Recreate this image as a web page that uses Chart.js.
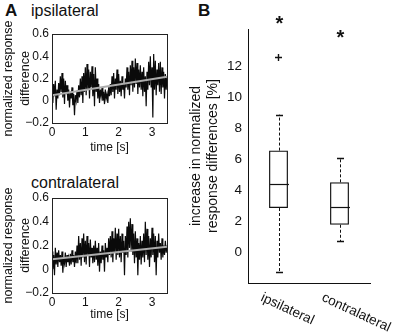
<!DOCTYPE html>
<html>
<head>
<meta charset="utf-8">
<script src="https://cdn.jsdelivr.net/npm/chart.js@4/dist/chart.umd.min.js"></script>
<style>
    body { margin: 0; background: #fff; width: 397px; height: 332px; position: relative; overflow: hidden; font-family: "Liberation Sans", Arial, sans-serif; color: #111; }
    canvas { position: absolute; }
    .lbl { position: absolute; line-height: 16px; white-space: nowrap; }
</style>
</head>
<body>
<div class="lbl" style="left:5px;top:3px;font-size:17px;font-weight:bold">A</div>
<div class="lbl" style="left:31px;top:3px;font-size:16px">ipsilateral</div>
<div class="lbl" style="left:31px;top:175px;font-size:16px">contralateral</div>
<div class="lbl" style="left:198px;top:3px;font-size:17px;font-weight:bold">B</div>

<canvas id="ipsiTrace" width="180" height="165" style="left:0;top:0"></canvas>
<canvas id="contraTrace" width="180" height="167" style="left:0;top:165px"></canvas>
<canvas id="boxes" width="217" height="332" style="left:180px;top:0"></canvas>

<script>
// --- Panel A data (normalized response difference, sampled every 25 ms) ---
const sampleStep = 0.025;
const ipsiTrace = [
    0.12, -0.02, 0.15, 0.04, 0.18, -0.08, 0.10, 0.02, 0.16, 0.05,
    0.22, 0.08, 0.25, 0.03, 0.20, -0.03, 0.18, 0.06, 0.14, 0.00,
    0.10, -0.06, 0.08, 0.02, 0.12, -0.04, 0.06, -0.13, 0.05, 0.00,
    0.09, -0.02, 0.14, 0.03, 0.20, 0.05, 0.22, -0.02, 0.25, 0.08,
    0.30, 0.05, 0.33, 0.10, 0.28, 0.02, 0.26, 0.12, 0.31, 0.04,
    0.24, -0.05, 0.30, 0.08, 0.20, 0.02, 0.15, -0.02, 0.10, 0.04,
    0.12, 0.00, 0.08, -0.03, 0.10, 0.02, 0.06, -0.02, 0.12, 0.04,
    0.15, 0.05, 0.22, 0.08, 0.25, 0.02, 0.20, 0.10, 0.28, 0.06,
    0.24, 0.08, 0.18, 0.04, 0.22, 0.10, 0.16, 0.02, 0.20, 0.12,
    0.30, 0.10, 0.26, 0.05, 0.32, 0.14, 0.36, 0.08, 0.30, 0.12,
    0.38, 0.15, 0.34, 0.06, 0.28, 0.12, 0.32, 0.10, 0.26, 0.04,
    0.30, 0.08, 0.22, -0.05, 0.26, 0.10, 0.35, 0.14, 0.40, 0.12,
    0.30, -0.15, 0.42, 0.10, 0.36, 0.05, 0.28, 0.14, 0.34, 0.08,
    0.35, 0.06, 0.30, 0.12, 0.26, 0.02, 0.24, 0.10, 0.22
];
const contraTrace = [
    0.15, 0.00, 0.12, -0.05, 0.18, 0.04, 0.14, 0.02, 0.16, 0.06,
    0.12, 0.03, 0.15, -0.03, 0.10, 0.05, 0.14, 0.02, 0.12, 0.06,
    0.10, 0.03, 0.13, 0.04, 0.16, 0.06, 0.12, 0.02, 0.15, 0.05,
    0.20, 0.05, 0.28, 0.08, 0.22, 0.03, 0.26, 0.10, 0.30, 0.06,
    0.24, 0.04, 0.28, 0.12, 0.22, 0.02, 0.25, 0.10, 0.18, 0.05,
    0.20, 0.06, 0.24, 0.08, 0.18, 0.03, 0.22, -0.02, 0.15, 0.05,
    0.20, 0.08, 0.16, -0.02, 0.22, 0.10, 0.18, 0.06, 0.26, 0.12,
    0.28, 0.10, 0.32, 0.06, 0.26, 0.14, 0.35, 0.08, 0.30, 0.12,
    0.34, 0.10, 0.28, 0.06, 0.30, 0.14, 0.24, -0.05, 0.28, 0.12,
    0.36, 0.10, 0.40, 0.18, 0.43, 0.15, 0.38, 0.12, 0.30, 0.05,
    0.32, 0.10, 0.26, -0.05, 0.22, 0.08, 0.28, 0.04, 0.24, 0.10,
    0.30, 0.06, 0.40, 0.12, 0.34, 0.08, 0.28, 0.02, 0.26, 0.10,
    0.35, 0.12, 0.30, 0.06, 0.28, -0.05, 0.24, 0.10, 0.30, 0.14,
    0.22, 0.08, 0.26, 0.10, 0.20, 0.12, 0.24, 0.14, 0.20
];
const trendTime = [0, 3.45];
const ipsiTrend = [0.05, 0.215];
const contraTrend = [0.085, 0.19];
const timeTicks = [0, 1, 2, 3];
const diffTicks = [-0.2, 0, 0.2, 0.4, 0.6];

// --- Panel B data (increase in normalized response differences, %) ---
const groups = ['ipsilateral', 'contralateral'];
const q1 = [2.84, 1.76];
const medians = [4.41, 2.88];
const q3 = [6.55, 4.5];
const whiskerLow = [-1.27, 0.69];
const whiskerHigh = [8.87, 6.05];
const outliers = [12.56, null];
const starLevel = [15.1, 14.2];
const increaseTicks = [0, 2, 4, 6, 8, 10, 12];

const INK = '#111';
const FONT = '"Liberation Sans", Arial, sans-serif';

// stroke a full box around the plot area (MATLAB style)
const framePlugin = {
    id: 'frame',
    afterDatasetsDraw(chart) {
        const a = chart.chartArea;
        const ctx = chart.ctx;
        ctx.save();
        ctx.strokeStyle = '#222';
        ctx.lineWidth = 1;
        ctx.strokeRect(Math.round(a.left) + 0.5, Math.round(a.top) + 0.5,
            Math.round(a.right - a.left), Math.round(a.bottom - a.top));
        ctx.restore();
    }
};

function fixedTicks(list) {
    return scale => { scale.ticks = list.map(v => ({ value: v })); };
}

function makeTrace(id, trace, trend, plotTop, plotBottom, canvasHeight) {
    new Chart(document.getElementById(id), {
        type: 'line',
        data: {
            datasets: [
                {
                    data: trendTime.map((t, i) => ({ x: t, y: trend[i] })),
                    borderColor: '#acacac', borderWidth: 2, pointRadius: 0
                },
                {
                    data: trace.map((v, i) => ({ x: i * sampleStep, y: v })),
                    borderColor: '#0a0a0a', borderWidth: 1.2, pointRadius: 0, tension: 0
                }
            ]
        },
        options: {
            responsive: false,
            animation: false,
            layout: { padding: { left: 0, top: plotTop, right: 13, bottom: 0 } },
            plugins: { legend: { display: false }, tooltip: { enabled: false } },
            scales: {
                x: {
                    type: 'linear', min: 0, max: 3.45,
                    afterBuildTicks: fixedTicks(timeTicks),
                    afterFit: s => { s.height = canvasHeight - plotBottom; },
                    grid: { display: false, drawTicks: false },
                    border: { display: false },
                    ticks: { color: INK, font: { family: FONT, size: 12 }, padding: 2, maxRotation: 0 },
                    title: { display: true, text: 'time [s]', color: INK, font: { family: FONT, size: 12 }, padding: { top: 0, bottom: 10 } }
                },
                y: {
                    type: 'linear', min: -0.2, max: 0.6,
                    afterBuildTicks: fixedTicks(diffTicks),
                    afterFit: s => { s.width = 52; },
                    grid: { display: false, drawTicks: false },
                    border: { display: false },
                    ticks: {
                        color: INK, font: { family: FONT, size: 12 }, padding: 3,
                        callback: v => v < 0 ? '\u2212' + Math.abs(v) : String(v)
                    },
                    title: {
                        display: true, text: ['normalized response', 'difference'], color: INK,
                        font: { family: FONT, size: 12.5, lineHeight: 1.35 }, padding: { top: 0, bottom: 0 }
                    }
                }
            }
        },
        plugins: [framePlugin]
    });
}

makeTrace('ipsiTrace', ipsiTrace, ipsiTrend, 34, 123, 165);
makeTrace('contraTrace', contraTrace, contraTrend, 33, 128, 167);

// whiskers, caps, medians, significance stars and slanted group labels
const boxExtras = {
    id: 'boxExtras',
    afterDatasetsDraw(chart) {
        const ctx = chart.ctx;
        const xs = chart.scales.x;
        const ys = chart.scales.y;
        const bars = chart.getDatasetMeta(0).data;
        ctx.save();
        ctx.strokeStyle = INK;
        ctx.fillStyle = INK;
        ctx.lineWidth = 1;
        groups.forEach((g, i) => {
            const x = Math.round(xs.getPixelForValue(i)) + 0.5;
            const half = bars[i].width / 2;
            // dashed whiskers
            ctx.lineWidth = 1;
            ctx.setLineDash([3, 2]);
            ctx.beginPath();
            ctx.moveTo(x, ys.getPixelForValue(q3[i]));
            ctx.lineTo(x, ys.getPixelForValue(whiskerHigh[i]));
            ctx.moveTo(x, ys.getPixelForValue(q1[i]));
            ctx.lineTo(x, ys.getPixelForValue(whiskerLow[i]));
            ctx.stroke();
            ctx.setLineDash([]);
            // caps
            ctx.lineWidth = 1.5;
            ctx.beginPath();
            [whiskerHigh[i], whiskerLow[i]].forEach(v => {
                const y = Math.round(ys.getPixelForValue(v)) + 0.5;
                ctx.moveTo(x - 3.5, y);
                ctx.lineTo(x + 3.5, y);
            });
            ctx.stroke();
            // median
            ctx.lineWidth = 1.2;
            const ym = Math.round(ys.getPixelForValue(medians[i])) + 0.5;
            ctx.beginPath();
            ctx.moveTo(x - half, ym);
            ctx.lineTo(x + half, ym);
            ctx.stroke();
            // star
            ctx.font = 'bold 20px ' + FONT;
            ctx.textAlign = 'center';
            ctx.textBaseline = 'alphabetic';
            ctx.fillText('*', x, ys.getPixelForValue(starLevel[i]) + 11.5);
            // slanted label
            ctx.save();
            ctx.translate(x - 18, chart.chartArea.bottom + 14);
            ctx.rotate(25 * Math.PI / 180);
            ctx.font = '13.5px ' + FONT;
            ctx.textAlign = 'left';
            ctx.textBaseline = 'middle';
            ctx.fillText(g, 0, 0);
            ctx.restore();
        });
        ctx.restore();
    }
};

new Chart(document.getElementById('boxes'), {
    type: 'bar',
    data: {
        labels: groups,
        datasets: [
            {
                data: groups.map((g, i) => [q1[i], q3[i]]),
                backgroundColor: 'rgba(255,255,255,0)',
                borderColor: INK, borderWidth: 1.2, borderSkipped: false,
                barPercentage: 0.31, categoryPercentage: 1
            },
            {
                type: 'line',
                data: outliers,
                showLine: false,
                pointStyle: 'cross', pointRadius: 3.5, borderWidth: 1.4,
                borderColor: INK, backgroundColor: INK
            }
        ]
    },
    options: {
        responsive: false,
        animation: false,
        layout: { padding: { left: 0, top: 29, right: 27, bottom: 0 } },
        plugins: { legend: { display: false }, tooltip: { enabled: false } },
        scales: {
            x: {
                offset: true,
                afterFit: s => { s.height = 332 - 283; },
                grid: { display: false, drawTicks: false },
                border: { display: true, color: INK, width: 1 },
                ticks: { display: false }
            },
            y: {
                min: -2, max: 14.4,
                afterBuildTicks: fixedTicks(increaseTicks),
                afterFit: s => { s.width = 68; },
                grid: { display: false, drawTicks: false },
                border: { display: true, color: INK, width: 1 },
                ticks: { color: INK, font: { family: FONT, size: 13.5 }, padding: 6 },
                title: {
                    display: true, text: ['increase in normalized', 'response differences [%]'], color: INK,
                    font: { family: FONT, size: 14, lineHeight: 1.2 }, padding: { top: 8, bottom: 0 }
                }
            }
        }
    },
    plugins: [boxExtras]
});
</script>
</body>
</html>
